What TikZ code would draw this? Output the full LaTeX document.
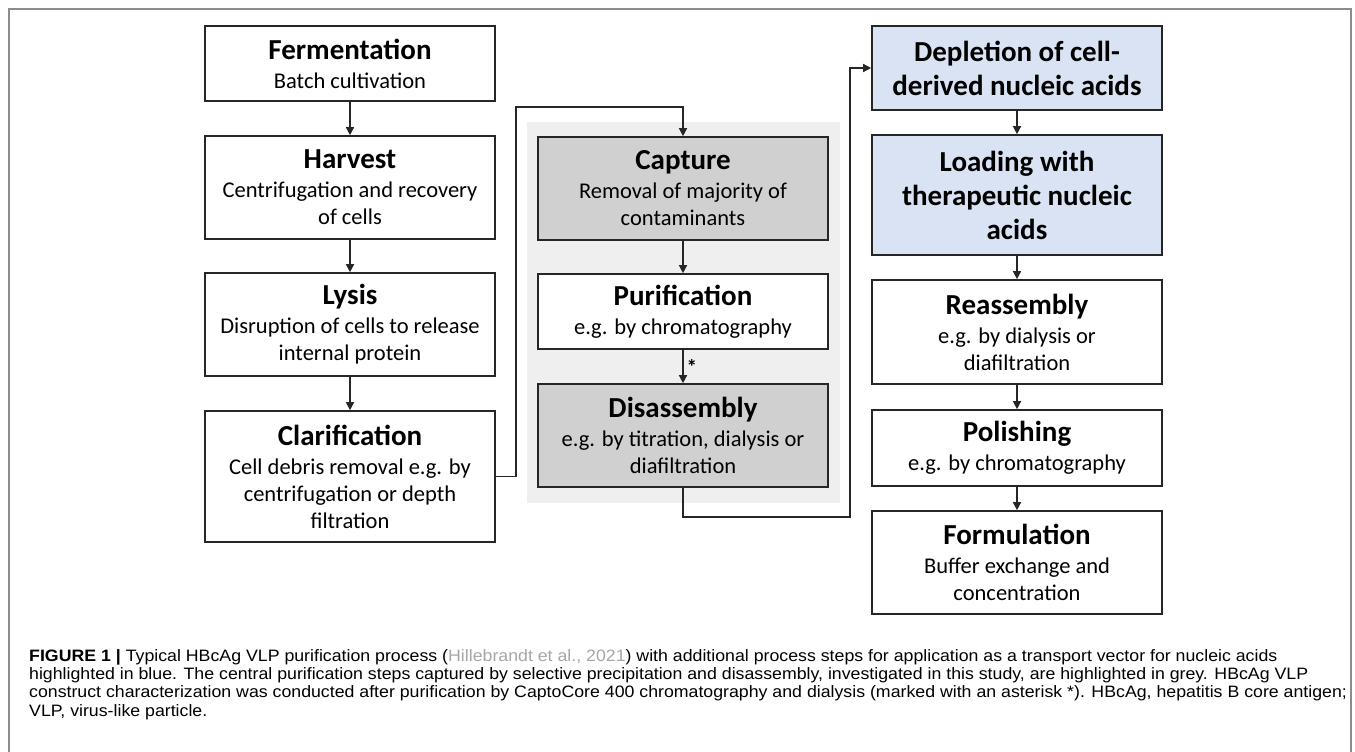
\documentclass[tikz,border=0pt]{standalone}
\usepackage{fontspec}
\setmainfont{Carlito}
\newfontfamily\capfont[FakeStretch=1.075]{Liberation Sans}
\usepackage{tikz}
\usetikzlibrary{shapes,arrows,arrows.meta,positioning,calc}
\usepackage{xcolor}
\definecolor{boxline}{HTML}{262626}
\definecolor{greybox}{HTML}{D0D0D0}
\definecolor{greypanel}{HTML}{EFEFEF}
\definecolor{bluebox}{HTML}{DAE3F3}
\definecolor{framegrey}{HTML}{8C8C8C}
\definecolor{citegrey}{HTML}{A6A6A6}

\newcommand{\steptitle}[1]{{\fontsize{29}{34}\selectfont\bfseries #1}}

\begin{document}
\begin{tikzpicture}[x=1pt,y=-1pt,
    stepbox/.style={draw=boxline, line width=1.6pt, fill=white, minimum width=290pt,
        align=center, inner sep=0pt, font=\fontsize{22.5}{27}\selectfont},
    headbox/.style={stepbox, font=\fontsize{29}{34}\selectfont\bfseries},
    flow/.style={draw=boxline, line width=1.3pt, -{Triangle[length=8pt,width=8pt]}}]

\useasboundingbox (0,0) rectangle (1355,752);
% frame and grey panel
\draw[framegrey, line width=1.3pt] (9,752) -- (9,9) -- (1351,9) -- (1351,752);
\fill[greypanel] (527,122) rectangle (840,503);

% upstream
\node[stepbox, minimum height=75pt] (ferm) at (350,63.5) {\steptitle{Fermentation}\\[2pt]Batch cultivation};
\node[stepbox, minimum height=103pt] (harv) at (350,187.5) {\steptitle{Harvest}\\[2pt]Centrifugation and recovery\\of cells};
\node[stepbox, minimum height=103pt] (lysis) at (350,324.5) {\steptitle{Lysis}\\[2pt]Disruption of cells to release\\internal protein};
\node[stepbox, minimum height=131pt] (clar) at (350,476.5) {\steptitle{Clarification}\\[2pt]Cell debris removal e.g. by\\centrifugation or depth\\filtration};

% central steps
\node[stepbox, fill=greybox, minimum height=103pt] (capt) at (683,188.5) {\steptitle{Capture}\\[2pt]Removal of majority of\\contaminants};
\node[stepbox, minimum height=75pt] (puri) at (683,311.5) {\steptitle{Purification}\\[2pt]e.g. by chromatography};
\node[stepbox, fill=greybox, minimum height=103pt] (disa) at (683,435.5) {\steptitle{Disassembly}\\[2pt]e.g. by titration, dialysis or\\diafiltration};

% nucleic acid steps and downstream
\node[headbox, fill=bluebox, minimum height=84pt] (depl) at (1017,68) {Depletion of cell-\\derived nucleic acids};
\node[headbox, fill=bluebox, minimum height=120pt] (load) at (1017,195) {Loading with\\therapeutic nucleic\\acids};
\node[stepbox, minimum height=104pt] (reas) at (1017,332) {\steptitle{Reassembly}\\[2pt]e.g. by dialysis or\\diafiltration};
\node[stepbox, minimum height=76pt] (poli) at (1017,448) {\steptitle{Polishing}\\[2pt]e.g. by chromatography};
\node[stepbox, minimum height=103pt] (form) at (1017,562.5) {\steptitle{Formulation}\\[2pt]Buffer exchange and\\concentration};

\coordinate (bendA) at (516,107);
\coordinate (bendB) at (850,517);

\draw[flow] (ferm) -- (harv);
\draw[flow] (harv) -- (lysis);
\draw[flow] (lysis) -- (clar);
\draw[flow] (clar.east) -| (bendA) -| (capt.north);
\draw[flow] (capt) -- (puri);
\draw[flow] (puri) -- node[right, inner sep=3pt, font=\fontsize{21}{21}\selectfont\bfseries] (star) {*} (disa);
\draw[flow] (disa.south) |- (bendB) |- (depl.west);
\draw[flow] (depl) -- (load);
\draw[flow] (load) -- (reas);
\draw[flow] (reas) -- (poli);
\draw[flow] (poli) -- (form);

\node[anchor=north west, inner sep=0pt, align=left, font=\capfont\fontsize{16.5}{18.4}\selectfont] (caption) at (29,649)
    {\textbf{FIGURE 1 |} Typical HBcAg VLP purification process ({\color{citegrey}Hillebrandt et al., 2021}) with additional process steps for application as a transport vector for nucleic acids\\
     highlighted in blue. The central purification steps captured by selective precipitation and disassembly, investigated in this study, are highlighted in grey. HBcAg VLP\\
     construct characterization was conducted after purification by CaptoCore 400 chromatography and dialysis (marked with an asterisk *). HBcAg, hepatitis B core antigen;\\
     VLP, virus-like particle.};
\end{tikzpicture}
\end{document}
